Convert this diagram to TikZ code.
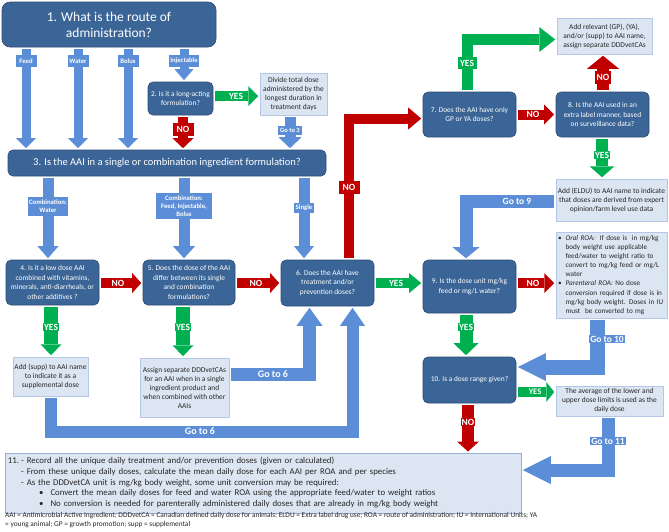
\documentclass[tikz,border=0pt]{standalone}
\usepackage{fontspec}
\setmainfont{Carlito}
\usetikzlibrary{arrows.meta,calc}
\definecolor{dbfill}{HTML}{3B6597}
\definecolor{dbline}{HTML}{2C4D75}
\definecolor{lbfill}{HTML}{DCE6F2}
\definecolor{lbline}{HTML}{B4C7E7}
\definecolor{ablue}{HTML}{5B8ED6}
\definecolor{ared}{HTML}{C00000}
\definecolor{agreen}{HTML}{00B050}
\definecolor{txt}{HTML}{262626}
\begin{document}
\begin{tikzpicture}[x=1pt,y=-1pt,
 dbox/.style={draw=dbline, line width=0.6pt, fill=dbfill, rounded corners=5pt, text=white, align=center, inner sep=1.5pt, font=\fontsize{7.4}{9.5}\selectfont},
 lbox/.style={draw=lbline, line width=0.5pt, fill=lbfill, text=txt, align=center, inner sep=1.5pt, font=\fontsize{7.45}{9}\selectfont},
 sz/.style 2 args={minimum width=#1 pt, minimum height=#2 pt},
 fat/.style={line width=#1, line join=miter, shorten <=2pt, shorten >=1.5pt},
 bhead/.style 2 args={-{Triangle[length=#1,width=#2,line width=0pt]}},
 lab/.style={fill=#1, text=white, inner sep=1pt, font=\bfseries\fontsize{9.5}{10}\selectfont},
 rlab/.style={fill=ablue, text=white, inner sep=0.5pt, align=center, font=\bfseries\fontsize{6.7}{8}\selectfont},
 golab/.style={fill=ablue, text=white, inner sep=1pt, font=\bfseries\fontsize{10}{11}\selectfont}
]
\useasboundingbox (0,0) rectangle (669,531);

% ---------- dark question boxes
\node[dbox, sz={214}{45}, rounded corners=8pt, font=\fontsize{13.5}{16}\selectfont] (q1) at (109,24.5) {1. What is the route of\\administration?};
\node[dbox, sz={65}{33}] (q2) at (180.5,98.5) {2. Is it a long-acting\\formulation?};
\node[dbox, sz={318}{26}, font=\fontsize{10.5}{12}\selectfont] (q3) at (167,163) {3. Is the AAI in a single or combination ingredient formulation?};
\node[dbox, sz={93}{45}] (q4) at (52.5,282.5) {4. Is it a low dose AAI\\combined with vitamins,\\minerals, anti-diarrheals, or\\other additives ?};
\node[dbox, sz={92}{45}] (q5) at (189,282.5) {5. Does the dose of the AAI\\differ between its single\\and combination\\formulations?};
\node[dbox, sz={93}{46}] (q6) at (327.5,283) {6. Does the AAI have\\treatment and/or\\prevention doses?};
\node[dbox, sz={93}{45}] (q7) at (469.5,114.5) {7. Does the AAI have only\\GP or YA doses?};
\node[dbox, sz={93}{45}] (q8) at (602.5,114.5) {8. Is the AAI used in an\\extra label manner, based\\on surveillance data?};
\node[dbox, sz={93}{53}] (q9) at (469.5,286.5) {9. Is the dose unit mg/kg\\feed or mg/L water?};
\node[dbox, sz={93}{46}] (q10) at (469.5,380) {10. Is a dose range given?};

% ---------- light boxes
\node[lbox, sz={67}{42}] (divide) at (293.5,94) {Divide total dose\\administered by the\\longest duration in\\treatment days};
\node[lbox, sz={75}{39}] (addsupp) at (50.5,376.5) {Add (supp) to AAI name\\to indicate it as a\\supplemental dose};
\node[lbox, sz={89}{59}] (assign) at (184.5,387.5) {Assign separate DDDvetCAs\\for an AAI when in a single\\ingredient product and\\when combined with other\\AAIs};
\node[lbox, sz={95}{36}] (addrel) at (604.5,36) {Add relevant (GP), (YA),\\and/or (supp) to AAI name,\\assign separate DDDvetCAs};
\node[lbox, sz={111}{42}] (eldu) at (611.5,200) {Add (ELDU) to AAI name to indicate\\that doses are derived from expert\\opinion/farm level use data};
\node[lbox, sz={111}{86}, align=left, text width=107pt, font=\fontsize{7.2}{9.1}\selectfont] (bullets) at (611.5,275) {\begin{tabular}{@{}l@{\hspace{4pt}}l@{}}
\textbullet & \textit{Oral ROA:}\ \ If dose is\ \ in mg/kg\\
& body weight use applicable\\
& feed/water to weight ratio to\\
& convert to mg/kg feed or mg/L\\
& water\\
\textbullet & \textit{Parenteral ROA:} No dose\\
& conversion required if dose is in\\
& mg/kg body weight. Doses in IU\\
& must\ \ be converted to mg
\end{tabular}};
\node[lbox, sz={107}{30}] (avg) at (609.5,401) {The average of the lower and\\upper dose limits is used as the\\daily dose};
\node[lbox, draw=lbline!80!dbline, sz={516}{56}, align=left, text width=510pt, inner sep=3pt, font=\fontsize{8.8}{10.7}\selectfont] (q11) at (263,483) {\begin{tabular}{@{}l@{\hspace{2pt}}l@{}}
11. & - Record all the unique daily treatment and/or prevention doses (given or calculated)\\
 & - From these unique daily doses, calculate the mean daily dose for each AAI per ROA and per species\\
 & - As the DDDvetCA unit is mg/kg body weight, some unit conversion may be required:\\
 & \hspace{18pt}\textbullet\hspace{7pt}Convert the mean daily doses for feed and water ROA using the appropriate feed/water to weight ratios\\
 & \hspace{18pt}\textbullet\hspace{7pt}No conversion is needed for parenterally administered daily doses that are already in mg/kg body weight
\end{tabular}};
\node[anchor=north west, align=left, inner sep=0pt, text=txt, font=\fontsize{7.35}{9}\selectfont] (foot) at (5,512.5) {AAI = Antimicrobial Active Ingredient; DDDvetCA = Canadian defined daily dose for animals; ELDU = Extra label drug use; ROA = route of administration; IU = International Units; YA\\= young animal; GP = growth promotion; supp = supplemental};

% ---------- helper coordinates
\coordinate (xfeed) at (26,0);
\coordinate (xwater) at (78,0);
\coordinate (xbolus) at (128,0);
\coordinate (xinj) at (184,0);
\coordinate (xno2) at (183,0);
\coordinate (yyes2) at (0,96);
\coordinate (xgo3) at (290,0);
\coordinate (xcw) at (48,0);
\coordinate (xcf) at (184,0);
\coordinate (xsg) at (304,0);
\coordinate (yrow) at (0,283);
\coordinate (xy4) at (51,0);
\coordinate (xy5) at (183,0);
\coordinate (gy1) at (0,374.5);
\coordinate (gx1) at (309.5,0);
\coordinate (gy2) at (0,431.5);
\coordinate (gx2) at (352.5,0);
\coordinate (gx3) at (349,0);
\coordinate (gy3) at (0,118.5);
\coordinate (xno8) at (603,0);
\coordinate (xy7) at (467,0);
\coordinate (yy7) at (0,39.5);
\coordinate (xy8) at (602,0);
\coordinate (gy9) at (0,201);
\coordinate (gx9) at (466,0);
\coordinate (xy9) at (466,0);
\coordinate (gx10) at (597,0);
\coordinate (gy10) at (0,367);
\coordinate (gx11) at (608,0);
\coordinate (gy11) at (0,470);
\coordinate (xno10) at (468,0);
\coordinate (yy10) at (0,392);

% ---------- arrows: routes
\draw[fat=9pt, ablue, bhead={10pt}{20pt}] (xfeed |- q1.south) -- (xfeed |- q3.north);
\draw[fat=9pt, ablue, bhead={10pt}{20pt}] (xwater |- q1.south) -- (xwater |- q3.north);
\draw[fat=9pt, ablue, bhead={10pt}{20pt}] (xbolus |- q1.south) -- (xbolus |- q3.north);
\draw[fat=9pt, ablue, bhead={11pt}{19pt}] (xinj |- q1.south) -- (xinj |- q2.north);
% q2
\draw[fat=10pt, ared, bhead={10pt}{21pt}] (xno2 |- q2.south) -- (xno2 |- q3.north);
\draw[fat=10pt, agreen, bhead={10pt}{20pt}] (q2.east |- yyes2) -- (divide.west |- yyes2);
\draw[fat=11pt, ablue, bhead={11pt}{23pt}] (xgo3 |- divide.south) -- (xgo3 |- q3.north);
% q3
\draw[fat=11pt, ablue, bhead={12pt}{21pt}] (xcw |- q3.south) -- (xcw |- q4.north);
\draw[fat=11pt, ablue, bhead={12pt}{22pt}] (xcf |- q3.south) -- (xcf |- q5.north);
\draw[fat=11pt, ablue, bhead={12pt}{20pt}] (xsg |- q3.south) -- (xsg |- q6.north);
% row 4-6
\draw[fat=10pt, ared, bhead={9pt}{20pt}] (q4.east |- yrow) -- (q5.west |- yrow);
\draw[fat=10pt, ared, bhead={9pt}{20pt}] (q5.east |- yrow) -- (q6.west |- yrow);
\draw[fat=14pt, agreen, bhead={11pt}{21pt}] (xy4 |- q4.south) -- (xy4 |- addsupp.north);
\draw[fat=14pt, agreen, bhead={11pt}{21pt}] (xy5 |- q5.south) -- (xy5 |- assign.north);
\draw[fat=13pt, ablue, bhead={18pt}{26pt}] (assign.east |- gy1) -| (gx1 |- q6.south);
\draw[fat=12pt, ablue, bhead={18pt}{25pt}] (addsupp.south) |- (gx2 |- gy2) -- (gx2 |- q6.south);
% q6 onwards
\draw[fat=10pt, ared, bhead={13pt}{22pt}] (gx3 |- q6.north) |- (q7.west |- gy3);
\draw[fat=10pt, agreen, bhead={12pt}{20pt}] (q6.east |- yrow) -- (q9.west |- yrow);
\draw[fat=10pt, ared, bhead={10pt}{20pt}] (q7.east) -- (q8.west);
\draw[fat=12pt, ared, bhead={13pt}{32pt}] (xno8 |- q8.north) -- (xno8 |- addrel.south);
\draw[fat=11pt, agreen, bhead={16pt}{25pt}] (xy7 |- q7.north) |- (addrel.west |- yy7);
\draw[fat=12pt, agreen, bhead={11pt}{25pt}] (xy8 |- q8.south) -- (xy8 |- eldu.north);
\draw[fat=13pt, ablue, bhead={11pt}{27pt}] (eldu.west |- gy9) -| (gx9 |- q9.north);
\draw[fat=10pt, ared, bhead={10pt}{20pt}] (q9.east |- yrow) -- (bullets.west |- yrow);
\draw[fat=13pt, agreen, bhead={12pt}{25pt}] (xy9 |- q9.south) -- (xy9 |- q10.north);
\draw[fat=15pt, ablue, bhead={28pt}{28pt}] (gx10 |- bullets.south) |- (q10.east |- gy10);
\draw[fat=13pt, ablue, bhead={28pt}{28pt}] (gx11 |- avg.south) |- (q11.east |- gy11);
\draw[fat=12pt, ared, bhead={10pt}{22pt}] (xno10 |- q10.south) -- (xno10 |- q11.north);
\draw[fat=10pt, agreen, bhead={8pt}{20pt}] (q10.east |- yy10) -- (avg.west |- yy10);

% ---------- labels
\node[rlab, minimum width=21pt, minimum height=12pt] (lfeed) at (26,61) {Feed};
\node[rlab, minimum width=21pt, minimum height=12pt] (lwater) at (78,61) {Water};
\node[rlab, minimum width=21pt, minimum height=12pt] (lbolus) at (128,61) {Bolus};
\node[rlab, minimum width=30pt, minimum height=12pt] (linj) at (184,61) {Injectable};
\node[lab=ared, minimum width=21pt, minimum height=13pt] (lno2) at (183,129) {NO};
\node[lab=agreen] (lyes2) at (236,96) {YES};
\node[rlab, minimum width=24pt, minimum height=9pt, font=\bfseries\fontsize{6.5}{7}\selectfont] (lgo3) at (290,130) {Go to 3};
\node[rlab, minimum width=40pt, minimum height=19pt] (lcw) at (48,206.5) {Combination:\\Water};
\node[rlab, minimum width=56pt, minimum height=26pt] (lcf) at (184,206) {Combination:\\Feed, Injectable,\\Bolus};
\node[rlab, minimum width=20pt, minimum height=10pt] (lsg) at (304,207.5) {Single};
\node[lab=ared] (lno4) at (118,283) {NO};
\node[lab=ared] (lno5) at (256,283) {NO};
\node[lab=agreen] (lyes4) at (51,327) {YES};
\node[lab=agreen] (lyes5) at (183,327) {YES};
\node[golab] (lgo6a) at (273,374.5) {Go to 6};
\node[golab] (lgo6b) at (200,431.5) {Go to 6};
\node[lab=ared, minimum width=21pt, minimum height=13pt] (lno6) at (349,187) {NO};
\node[lab=agreen] (lyes6) at (396,283) {YES};
\node[lab=ared] (lno7) at (533,114.5) {NO};
\node[lab=ared, minimum width=16pt, minimum height=13pt] (lno8) at (603,77) {NO};
\node[lab=agreen, minimum width=19pt, minimum height=12pt] (lyes7) at (467,63) {YES};
\node[lab=agreen] (lyes8) at (602,155) {YES};
\node[golab, font=\bfseries\fontsize{9.5}{10}\selectfont] (lgo9) at (517,201) {Go to 9};
\node[lab=ared] (lno9) at (533,283) {NO};
\node[lab=agreen] (lyes9) at (466,327) {YES};
\node[golab, font=\bfseries\fontsize{9.5}{10}\selectfont] (lgo10) at (607,339) {Go to 10};
\node[golab, font=\bfseries\fontsize{9.5}{10}\selectfont] (lgo11) at (608,441) {Go to 11};
\node[lab=ared] (lno10) at (468,422) {NO};
\node[lab=agreen, font=\bfseries\fontsize{8.5}{9}\selectfont] (lyes10) at (535,392) {YES};
\end{tikzpicture}
\end{document}
